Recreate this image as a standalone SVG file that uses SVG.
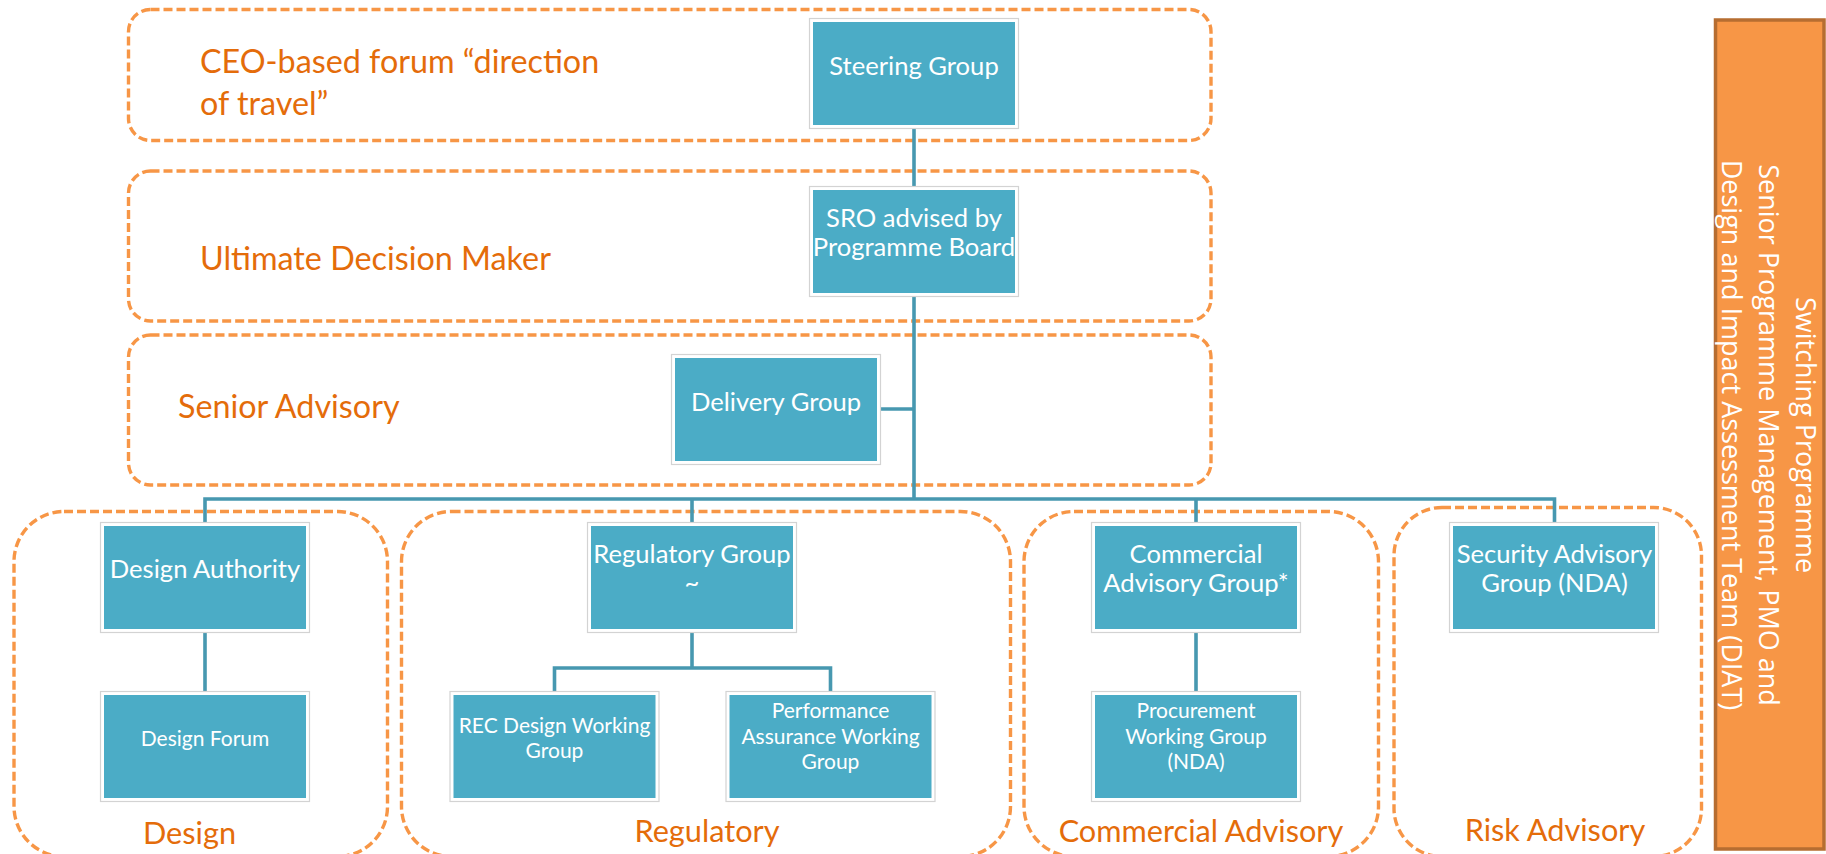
<svg xmlns="http://www.w3.org/2000/svg" width="1826" height="854" viewBox="0 0 1826 854">
<style>
.band{fill:none;stroke:#f79646;stroke-width:3.4;stroke-dasharray:9 4}
.frame{fill:#ffffff;stroke:#d3d3d3;stroke-width:1.2}
.box{fill:#4bacc6}
.conn{fill:none;stroke:#4798b0;stroke-width:3.6}
.t{font-family:Lato,'Liberation Sans',sans-serif;fill:#ffffff;text-anchor:middle}
.m{font-size:25.6px}
.s{font-size:21px}
.h{font-family:Lato,'Liberation Sans',sans-serif;fill:#e46c0a;font-size:32.3px}
.g{font-family:Lato,'Liberation Sans',sans-serif;fill:#e46c0a;font-size:30.7px;text-anchor:middle}
.side{font-family:'Open Sans','Liberation Sans',sans-serif;font-size:27px;fill:#ffffff;text-anchor:middle}
</style>
<rect width="1826" height="854" fill="#ffffff"/>
<g id="bands">
<rect class="band" x="128.5" y="9.5" width="1082.5" height="131" rx="22"/>
<rect class="band" x="128.5" y="171" width="1082.5" height="150" rx="22"/>
<rect class="band" x="128.5" y="335" width="1082.5" height="150" rx="22"/>
<rect class="band" x="14" y="511.5" width="373.5" height="345" rx="50"/>
<rect class="band" x="401.5" y="511.5" width="609" height="345" rx="50"/>
<rect class="band" x="1024" y="511.5" width="354.5" height="345" rx="50"/>
<rect class="band" x="1394" y="507.5" width="307.5" height="349" rx="48"/>
</g>
<g id="band-labels">
<text class="h" x="200" y="73">CEO-based forum “direction</text>
<text class="h" x="200" y="115">of travel”</text>
<text class="h" x="200" y="270">Ultimate Decision Maker</text>
<text class="h" x="178" y="418">Senior Advisory</text>
<text class="g" x="189.5" y="844">Design</text>
<text class="g" x="707" y="842">Regulatory</text>
<text class="g" x="1201" y="842">Commercial Advisory</text>
<text class="g" x="1555" y="841">Risk Advisory</text>
</g>
<g id="connectors">
<path class="conn" d="M914,128 V187"/>
<path class="conn" d="M914,296 V499"/>
<path class="conn" d="M880,409 H914"/>
<path class="conn" d="M205,523 V499 H1554.5 V523"/>
<path class="conn" d="M692,499 V523"/>
<path class="conn" d="M1196,499 V523"/>
<path class="conn" d="M205,632 V692"/>
<path class="conn" d="M692,632 V668"/>
<path class="conn" d="M554.5,692 V668 H830.5 V692"/>
<path class="conn" d="M1196,632 V692"/>
</g>
<g id="steering">
<rect class="frame" x="809.5" y="18.5" width="209" height="110"/>
<rect class="box" x="813" y="22" width="202" height="103"/>
<text class="t m" x="914" y="75">Steering Group</text>
</g>
<g id="sro">
<rect class="frame" x="809.5" y="186.5" width="209" height="110"/>
<rect class="box" x="813" y="190" width="202" height="103"/>
<text class="t m" x="914" y="227">SRO advised by</text>
<text class="t m" x="914" y="256">Programme Board</text>
</g>
<g id="delivery">
<rect class="frame" x="671.5" y="354.5" width="209" height="110"/>
<rect class="box" x="675" y="358" width="202" height="103"/>
<text class="t m" x="776" y="411">Delivery Group</text>
</g>
<g id="design-authority">
<rect class="frame" x="100.5" y="522.5" width="209" height="110"/>
<rect class="box" x="104" y="526" width="202" height="103"/>
<text class="t m" x="205" y="578">Design Authority</text>
</g>
<g id="design-forum">
<rect class="frame" x="100.5" y="691.5" width="209" height="110"/>
<rect class="box" x="104" y="695" width="202" height="103"/>
<text class="t s" x="205" y="746">Design Forum</text>
</g>
<g id="regulatory-group">
<rect class="frame" x="587.5" y="522.5" width="209" height="110"/>
<rect class="box" x="591" y="526" width="202" height="103"/>
<text class="t m" x="692" y="563">Regulatory Group</text>
<text class="t m" x="692" y="592">~</text>
</g>
<g id="rec-design">
<rect class="frame" x="450" y="691.5" width="209" height="110"/>
<rect class="box" x="453.5" y="695" width="202" height="103"/>
<text class="t s" x="554.5" y="733">REC Design Working</text>
<text class="t s" x="554.5" y="758">Group</text>
</g>
<g id="performance-assurance">
<rect class="frame" x="726" y="691.5" width="209" height="110"/>
<rect class="box" x="729.5" y="695" width="202" height="103"/>
<text class="t s" x="830.5" y="718">Performance</text>
<text class="t s" x="830.5" y="743.5">Assurance Working</text>
<text class="t s" x="830.5" y="769">Group</text>
</g>
<g id="commercial-advisory">
<rect class="frame" x="1091.5" y="522.5" width="209" height="110"/>
<rect class="box" x="1095" y="526" width="202" height="103"/>
<text class="t m" x="1196" y="563">Commercial</text>
<text class="t m" x="1196" y="592">Advisory Group*</text>
</g>
<g id="procurement">
<rect class="frame" x="1091.5" y="691.5" width="209" height="110"/>
<rect class="box" x="1095" y="695" width="202" height="103"/>
<text class="t s" x="1196" y="718">Procurement</text>
<text class="t s" x="1196" y="743.5">Working Group</text>
<text class="t s" x="1196" y="769">(NDA)</text>
</g>
<g id="security-advisory">
<rect class="frame" x="1449.5" y="522.5" width="209" height="110"/>
<rect class="box" x="1453" y="526" width="202" height="103"/>
<text class="t m" x="1554.5" y="563">Security Advisory</text>
<text class="t m" x="1554.5" y="592">Group (NDA)</text>
</g>
<g id="sidebar">
<rect x="1715.5" y="20" width="108.5" height="829" fill="#f79646" stroke="#b66d31" stroke-width="3.5"/>
<text class="side" transform="translate(1796,435) rotate(90)">Switching Programme</text>
<text class="side" transform="translate(1759,435) rotate(90)">Senior Programme Management, PMO and</text>
<text class="side" transform="translate(1722,435) rotate(90)">Design and Impact Assessment Team (DIAT)</text>
</g>
</svg>
